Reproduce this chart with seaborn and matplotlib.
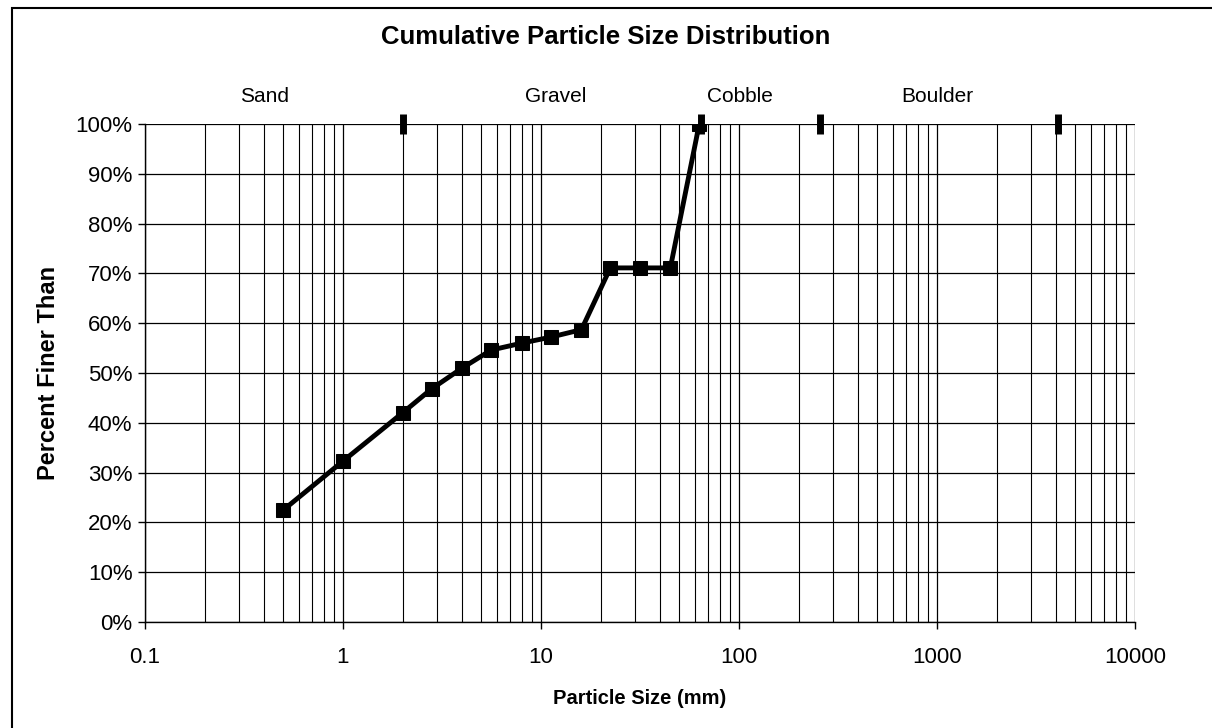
import matplotlib
matplotlib.use("Agg")
from matplotlib import pyplot as plt
from matplotlib.patches import Rectangle
from matplotlib.ticker import FixedLocator, LogLocator, NullFormatter
import seaborn as sns
import pandas as pd

# sieve sizes (mm) and cumulative percent passing
size_mm = [0.5, 1, 2, 2.8, 4, 5.6, 8, 11.2, 16, 22.4, 31.5, 45, 63]
pct_finer = [22.5, 32.3, 42.0, 46.8, 51.0, 54.6, 56.0, 57.2, 58.7, 71.1, 71.1, 71.1, 100]

# size class boundaries shown at the top
class_bounds = [2, 64, 256, 4096]
class_names = ["Sand", "Gravel", "Cobble", "Boulder"]
class_label_x = [0.4, 11.9, 101, 1000]

x_ticks = [0.1, 1, 10, 100, 1000, 10000]
x_tick_labels = ["0.1", "1", "10", "100", "1000", "10000"]
y_ticks = list(range(0, 101, 10))

sns.set_style("white")
plt.rcParams["font.family"] = ["Liberation Sans", "DejaVu Sans"]
plt.rcParams.update({"text.color": "black", "axes.labelcolor": "black",
                     "xtick.color": "black", "ytick.color": "black"})

df = pd.DataFrame({"size": size_mm, "pct": pct_finer})
bounds = pd.DataFrame({"size": class_bounds, "pct": [100] * len(class_bounds)})

fig = plt.figure(figsize=(12.12, 7.28), dpi=100)
ax = fig.add_axes([0.1196, 0.1456, 0.8169, 0.6841])

sns.lineplot(x="size", y="pct", data=df, ax=ax, color="black", linewidth=3.5,
             marker="s", markersize=10, markeredgecolor="black", zorder=5)
ax.plot(bounds["size"], bounds["pct"], linestyle="none", marker="|",
        markersize=14, markeredgewidth=5, color="black", zorder=6, clip_on=False)

ax.set_xscale("log")
ax.set_xlim(0.1, 10000)
ax.set_ylim(0, 100)
ax.xaxis.set_major_locator(FixedLocator(x_ticks))
ax.set_xticklabels(x_tick_labels)
ax.xaxis.set_minor_locator(LogLocator(base=10, subs=range(2, 10), numticks=20))
ax.xaxis.set_minor_formatter(NullFormatter())
ax.set_yticks(y_ticks)
ax.set_yticklabels([f"{v}%" for v in y_ticks])

ax.grid(True, which="major", axis="both", color="black", linewidth=0.9)
ax.grid(True, which="minor", axis="x", color="black", linewidth=0.8)
ax.tick_params(axis="both", which="major", direction="out", length=5, width=1,
               labelsize=16, color="black", left=True, bottom=True)
ax.tick_params(axis="x", which="major", pad=13)
ax.tick_params(axis="y", which="major", pad=4)
ax.tick_params(axis="x", which="minor", length=0)

for side in ["top", "right"]:
    ax.spines[side].set_visible(False)
for side in ["left", "bottom"]:
    ax.spines[side].set_color("black")
    ax.spines[side].set_linewidth(1.0)

ax.set_xlabel("Particle Size (mm)", fontsize=14.5, fontweight="bold", labelpad=15)
ax.set_ylabel("Percent Finer Than", fontsize=17, fontweight="bold", labelpad=11)

for name, xpos in zip(class_names, class_label_x):
    ax.text(xpos, 105.5, name, ha="center", va="center", fontsize=15, clip_on=False)

fig.text(0.5, 0.949, "Cumulative Particle Size Distribution", ha="center", va="center",
         fontsize=18.5, fontweight="bold")

fig.patches.append(Rectangle((12 / 1212, -0.1), 1.2, 1.1 - 8 / 728,
                             transform=fig.transFigure, fill=False,
                             edgecolor="black", linewidth=1.5))

fig.savefig("out.png", dpi=100)
